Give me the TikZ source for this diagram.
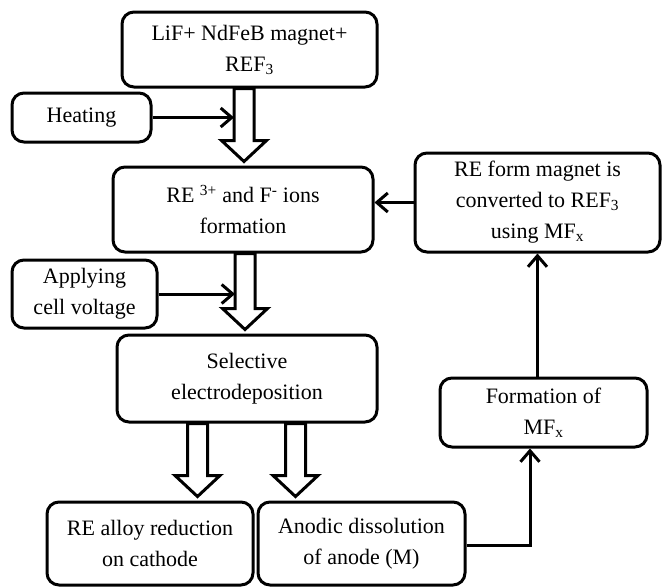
\documentclass[tikz,border=0pt]{standalone}
\usepackage{fontspec}
\setmainfont{Liberation Serif}
\usepackage{tikz}
\usetikzlibrary{calc,arrows.meta}

\begin{document}
\begin{tikzpicture}[x=1pt,y=-1pt,
  every node/.style={draw,rounded corners=12pt,line width=3pt,align=center,inner sep=0pt,font=\fontsize{22}{31}\selectfont},
  link/.style={line width=3pt,-{Straight Barb[length=11pt,width=19pt]}},
  fatarrow/.style={draw,fill=white,line width=3pt,line join=miter}]
\useasboundingbox (0,0) rectangle (662,587);

\node (mix)  [minimum width=255pt,minimum height=75pt] at (249.5,49.5) {LiF+ NdFeB magnet+\\REF\textsubscript{3}};
\node (heat) [minimum width=139pt,minimum height=49pt] at (81.5,117.5)  {Heating};
\node (ions) [minimum width=260pt,minimum height=85pt] at (243,209.5)   {RE \textsuperscript{3+} and F\textsuperscript{-} ions\\formation};
\node (volt) [minimum width=145pt,minimum height=68pt] at (84.5,294)    {Applying\\cell voltage};
\node (sel)  [minimum width=260pt,minimum height=87pt] at (247,378.5)   {Selective\\electrodeposition};
\node (red)  [minimum width=206pt,minimum height=83pt] at (150,543.5)   {RE alloy reduction\\on cathode};
\node (dis)  [minimum width=207pt,minimum height=83pt] at (361.5,543.5) {Anodic dissolution\\of anode (M)};
\node (mfx)  [minimum width=207pt,minimum height=69pt] at (543.5,412.5) {Formation of\\MF\textsubscript{x}};
\node (conv) [minimum width=245pt,minimum height=99pt] at (537.5,202.5) {RE form magnet is\\converted to REF\textsubscript{3}\\using MF\textsubscript{x}};

\foreach \a/\b/\xc [count=\i] in {mix/ions/244,ions/sel/245,sel/red/197.5,sel/dis/295.5}
  \draw[fatarrow] let \p1=(\a.south), \p2=(\b.north) in
    (\xc-10,\y1) coordinate (fl\i) -- (\xc-10,\y2+25pt) -- (\xc-22.5,\y2+25pt) -- (\xc,\y2+4pt)
    -- (\xc+22.5,\y2+25pt) -- (\xc+10,\y2+25pt) -- (\xc+10,\y1) -- cycle;

\draw[link] (heat.east) -- (heat.east -| fl1);
\draw[link] (volt.east) -- (volt.east -| fl2);
\draw[link] (conv.west) -- (conv.west -| ions.east);

\coordinate (turn) at (530,545);
\draw[link] (dis.east |- turn) -- (turn) -- (turn |- mfx.south);
\draw[link] (conv.south |- mfx.north) -- (conv.south);
\end{tikzpicture}
\end{document}
